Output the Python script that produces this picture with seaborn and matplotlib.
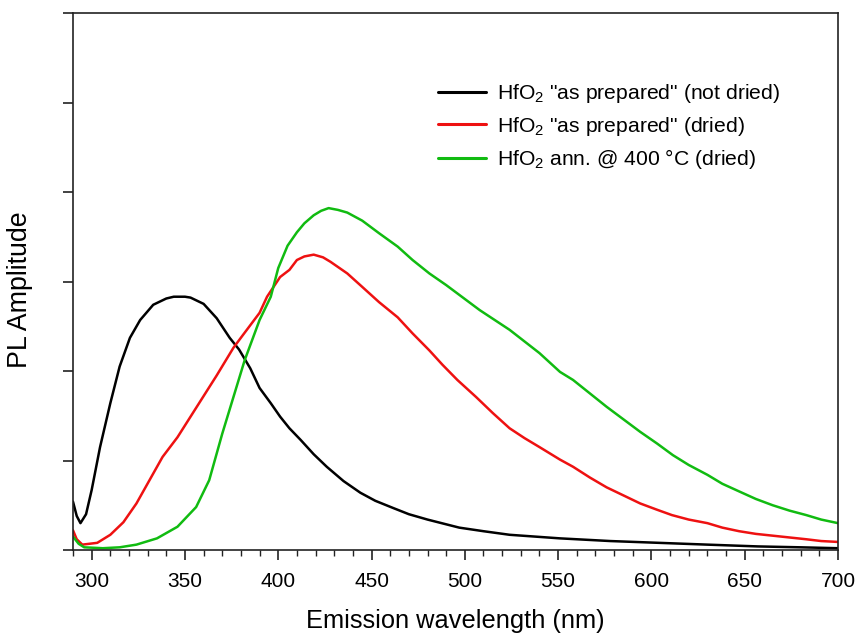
import matplotlib
matplotlib.use("Agg")
import matplotlib.pyplot as plt
from matplotlib.ticker import MultipleLocator, NullFormatter
import seaborn as sns
import pandas as pd

# ---- data ----
black_x = [290, 292, 294, 297, 300, 304.5, 310, 315, 320.5, 326, 333, 340, 344, 350, 353,
           360, 367, 374, 379, 385, 390, 396, 401, 406, 412, 419, 426, 435, 444, 452, 461.5, 470,
           480, 497, 510, 524, 551, 578, 604, 630, 657, 680, 700]
black_y = [0.54, 0.38, 0.30, 0.40, 0.67, 1.15, 1.64, 2.05, 2.37, 2.57, 2.74, 2.81, 2.83, 2.83, 2.82,
           2.75, 2.59, 2.37, 2.24, 2.03, 1.81, 1.64, 1.49, 1.36, 1.23, 1.07, 0.93, 0.77, 0.64, 0.55, 0.47, 0.40,
           0.34, 0.25, 0.21, 0.17, 0.13, 0.10, 0.08, 0.06, 0.04, 0.03, 0.02]

red_x = [290, 292, 295, 303, 310, 317, 324, 331, 338, 346, 353, 360, 367, 376, 381, 390, 394,
         401, 406, 410, 414, 419, 424, 428, 437, 445, 454, 464, 472, 481, 488, 496, 506, 515, 524,
         532, 540, 551, 558, 567, 576, 585, 594, 603, 611, 620, 630, 638, 647, 656, 665, 674, 683, 691, 700]
red_y = [0.22, 0.12, 0.06, 0.08, 0.17, 0.31, 0.52, 0.78, 1.04, 1.26, 1.49, 1.72, 1.95, 2.26, 2.40, 2.65, 2.83,
         3.05, 3.13, 3.24, 3.28, 3.30, 3.27, 3.22, 3.09, 2.94, 2.77, 2.60, 2.42, 2.23, 2.07, 1.90, 1.71, 1.53, 1.36,
         1.25, 1.15, 1.01, 0.93, 0.81, 0.70, 0.61, 0.52, 0.45, 0.39, 0.34, 0.30, 0.25, 0.21, 0.18, 0.16, 0.14, 0.12,
         0.10, 0.09]

green_x = [290, 293, 296, 306, 315, 324, 335, 346, 356, 363, 370, 376, 382, 390, 396, 400,
           405, 410, 414, 419, 423, 427, 432, 437, 445, 454, 464, 472, 481, 490, 499, 508, 516, 524,
           532, 540, 551, 558, 567, 576, 585, 594, 603, 611.5, 620, 630, 638, 647.5, 656, 665, 674,
           683, 691, 700]
green_y = [0.15, 0.07, 0.03, 0.02, 0.03, 0.06, 0.13, 0.26, 0.48, 0.78, 1.30, 1.71, 2.12, 2.57, 2.83, 3.15,
           3.40, 3.55, 3.65, 3.74, 3.79, 3.82, 3.80, 3.77, 3.68, 3.54, 3.39, 3.24, 3.09, 2.96, 2.82, 2.68, 2.57,
           2.46, 2.33, 2.20, 1.99, 1.90, 1.75, 1.60, 1.46, 1.32, 1.19, 1.06, 0.95, 0.84, 0.74, 0.65, 0.57, 0.50,
           0.44, 0.39, 0.34, 0.30]

labels = [r'HfO$_2$ "as prepared" (not dried)',
          r'HfO$_2$ "as prepared" (dried)',
          r'HfO$_2$ ann. @ 400 °C (dried)']
colors = ["#000000", "#ee1111", "#11bb11"]
x_ticks = [300, 350, 400, 450, 500, 550, 600, 650, 700]

frames = []
for lab, xs, ys in zip(labels, [black_x, red_x, green_x], [black_y, red_y, green_y]):
    frames.append(pd.DataFrame({"wavelength": xs, "amp": ys, "series": lab}))
df = pd.concat(frames, ignore_index=True)

sns.set_theme(style="ticks", rc={"text.color": "black", "axes.labelcolor": "black",
                                 "xtick.color": "black", "ytick.color": "black",
                                 "axes.edgecolor": "#222222"})
plt.rcParams["font.family"] = ["Liberation Sans", "DejaVu Sans"]
plt.rcParams["mathtext.fontset"] = "custom"
plt.rcParams["mathtext.rm"] = "Liberation Sans"
plt.rcParams["mathtext.default"] = "regular"

fig = plt.figure(figsize=(8.59, 6.39), dpi=100)
ax = fig.add_axes([73 / 859, 89 / 639, 765 / 859, 537 / 639])

sns.lineplot(data=df, x="wavelength", y="amp", hue="series", hue_order=labels,
             palette=colors, linewidth=1.8, ax=ax, sort=False, estimator=None)

ax.set_xlim(290, 700)
ax.set_ylim(0, 6)
ax.set_xticks(x_ticks)
ax.xaxis.set_minor_locator(MultipleLocator(10))
ax.yaxis.set_major_locator(MultipleLocator(1))
ax.yaxis.set_major_formatter(NullFormatter())
ax.tick_params(axis="x", which="major", direction="out", length=7, width=1.2,
               labelsize=15, pad=9, colors="#222222", labelcolor="black")
ax.tick_params(axis="x", which="minor", direction="out", length=4, width=1.0, colors="#222222")
ax.tick_params(axis="y", which="major", direction="out", length=7, width=1.2, colors="#222222")
for s in ax.spines.values():
    s.set_visible(True)
    s.set_linewidth(1.2)
    s.set_color("#222222")

ax.set_xlabel("Emission wavelength (nm)", fontsize=18.3)
ax.set_ylabel("PL Amplitude", fontsize=19.3)
ax.xaxis.set_label_coords(0.5, -0.11)
ax.yaxis.set_label_coords(-0.052, 0.484)

leg = ax.legend(loc="upper left", bbox_to_anchor=(0.4655, 0.8867), frameon=False,
                fontsize=15.2, handlelength=2.3, handletextpad=0.5, labelspacing=0.45,
                borderaxespad=0)
for h in leg.get_lines():
    h.set_linewidth(2.2)

fig.savefig("out.png", dpi=100)
